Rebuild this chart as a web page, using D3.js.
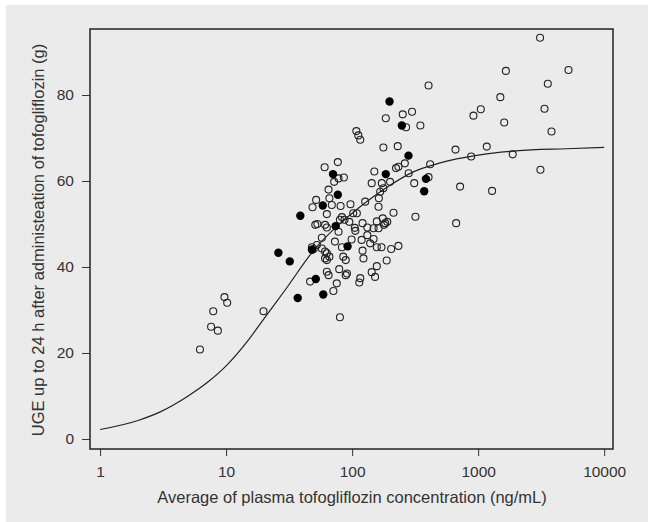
<!DOCTYPE html>
<html>
<head>
<meta charset="utf-8">
<script src="https://cdn.jsdelivr.net/npm/d3@7"></script>
<style>
  body { margin: 0; background: #fff; }
  text { font-family: "Liberation Sans", Arial, sans-serif; fill: #333; }
</style>
</head>
<body>
<div id="chart"></div>
<script>
// filled circles
const filledConc = [26, 32, 37, 38.8, 48, 51.5, 59, 58.5, 70.5, 74, 77, 92, 198, 185, 248, 280, 385, 373];
const filledUGE  = [43.3, 41.3, 32.8, 51.9, 44, 37.2, 33.6, 54.3, 61.6, 49.5, 56.8, 44.8, 78.5, 61.6, 72.9, 65.9, 60.5, 57.6];

// open circles
const openConc = [6.2, 7.6, 7.9, 8.6, 9.7, 10.2, 19.8,
  108, 112, 116, 177, 230, 185, 252, 299, 268, 348, 404,
  60.5, 77, 86, 72, 78, 150, 143, 172, 167, 177, 200,
  223, 233, 262, 281, 416, 311, 404, 318, 213,
  163, 162, 127, 65, 51.8, 48.5, 69, 81, 97, 66,
  109, 83, 80, 87, 63, 102, 53, 51, 63, 61, 95, 105,
  121, 132, 148, 162, 157, 175, 190, 179, 183,
  106, 78, 57.5, 73, 99, 83, 132, 139, 119, 148,
  157, 171, 204, 233, 121, 123, 188, 157, 143, 152, 116, 114,
  79, 91, 89, 85, 89, 63, 66, 63, 61, 63, 65,
  57.5, 61, 52.5, 48, 49.5, 46.4, 75.5, 71, 80,
  3100, 1660, 5210, 3570, 1500, 3360, 1050, 918, 1610, 3820,
  661, 1170, 880, 1880, 3120, 719, 1290, 669];
const openUGE = [20.8, 26.1, 29.7, 25.2, 33.0, 31.7, 29.7,
  71.6, 70.6, 69.6, 67.8, 68.1, 74.6, 75.5, 76.1, 72.5, 72.9, 82.2,
  63.2, 64.4, 60.8, 59.8, 60.6, 62.2, 59.5, 59.5, 57.5, 58.3, 59.8,
  63.0, 63.3, 64.1, 61.8, 63.9, 59.5, 60.9, 51.7, 52.6,
  56.0, 54.0, 55.2, 58.0, 55.6, 53.9, 54.4, 54.2, 54.6, 56,
  52.5, 51.6, 51, 51, 52.3, 52.5, 50, 49.8, 49.2, 49.8, 50.5, 49.1,
  50.2, 49.2, 49.0, 49.0, 50.6, 51.3, 50.5, 49.8, 50.2,
  48.4, 48.2, 46.8, 45.9, 46.4, 44.6, 47.4, 45.5, 46.3, 46.5,
  44.6, 44.6, 44.2, 44.9, 43.8, 42.0, 41.5, 40.2, 38.8, 37.7, 37.4, 36.4,
  39.5, 38.5, 38.1, 42.4, 41.6, 43.2, 42.4, 41.6, 42, 38.9, 38.1,
  44.3, 43.6, 45.1, 44.6, 44.2, 36.6, 36.2, 34.4, 28.3,
  93.3, 85.6, 85.8, 82.6, 79.5, 76.8, 76.7, 75.2, 73.6, 71.5,
  67.3, 68.0, 65.7, 66.2, 62.6, 58.7, 57.7, 50.2];

// fitted curve
const curveConc = [1, 2, 3, 5, 7, 10, 15, 20, 30, 50, 70, 100, 150, 200, 300, 500, 1000, 2000, 5000, 10000];
const curveUGE  = [2.2, 4.3, 6.3, 10, 13, 17, 23, 28, 35, 44, 48.5, 52.5, 56.5, 59, 62, 64.2, 66, 67, 67.5, 67.8];

const xTicks = [1, 10, 100, 1000, 10000];
const yTicks = [0, 20, 40, 60, 80];

const width = 648, height = 522;
const box = {left: 90, right: 613, top: 29, bottom: 449};

const svg = d3.select('#chart').append('svg')
  .attr('width', width)
  .attr('height', height);

svg.append('rect')
  .attr('x', 6).attr('y', 5)
  .attr('width', width - 6).attr('height', height - 5)
  .attr('fill', '#ebebeb');

const x = d3.scaleLog()
  .domain([Math.pow(10, -0.08), Math.pow(10, 4.07)])
  .range([box.left, box.right]);
const y = d3.scaleLinear()
  .domain([-2.33, 95.35])
  .range([box.bottom, box.top]);

// axes
const xAxis = svg.append('g')
  .attr('transform', `translate(0,${box.bottom})`)
  .call(d3.axisBottom(x).tickValues(xTicks).tickFormat(d3.format('d')).tickSize(7).tickPadding(10));
const yAxis = svg.append('g')
  .attr('transform', `translate(${box.left},0)`)
  .call(d3.axisLeft(y).tickValues(yTicks).tickSize(8).tickPadding(8));

[xAxis, yAxis].forEach(g => {
  g.select('.domain').remove();
  g.selectAll('line').attr('stroke', '#333').attr('stroke-width', 1);
  g.selectAll('text').attr('font-size', 15.5).attr('fill', '#333')
    .style('font-family', '"Liberation Sans", Arial, sans-serif');
});

svg.append('rect')
  .attr('x', box.left).attr('y', box.top)
  .attr('width', box.right - box.left).attr('height', box.bottom - box.top)
  .attr('fill', 'none')
  .attr('stroke', '#222')
  .attr('stroke-width', 1.5);

// curve
const curvePts = curveConc.map((c, i) => [c, curveUGE[i]]);
svg.append('path')
  .datum(curvePts)
  .attr('fill', 'none')
  .attr('stroke', '#222')
  .attr('stroke-width', 1.2)
  .attr('d', d3.line().x(d => x(d[0])).y(d => y(d[1])).curve(d3.curveMonotoneX));

// points
const openPts = openConc.map((c, i) => ({c: c, v: openUGE[i]}));
const filledPts = filledConc.map((c, i) => ({c: c, v: filledUGE[i]}));

svg.selectAll('circle.open')
  .data(openPts)
  .enter()
  .append('circle')
  .attr('class', 'open')
  .attr('cx', d => x(d.c))
  .attr('cy', d => y(d.v))
  .attr('r', 3.5)
  .attr('fill', 'none')
  .attr('stroke', '#222')
  .attr('stroke-width', 1.1);

svg.selectAll('circle.filled')
  .data(filledPts)
  .enter()
  .append('circle')
  .attr('class', 'filled')
  .attr('cx', d => x(d.c))
  .attr('cy', d => y(d.v))
  .attr('r', 4.2)
  .attr('fill', '#000');

// titles
svg.append('text')
  .attr('x', 352)
  .attr('y', 503)
  .attr('text-anchor', 'middle')
  .attr('font-size', 16.5)
  .text('Average of plasma tofogliflozin concentration (ng/mL)');

svg.append('text')
  .attr('transform', `translate(44,240) rotate(-90)`)
  .attr('text-anchor', 'middle')
  .attr('font-size', 16.5)
  .text('UGE up to 24 h after administeation of tofogliflozin (g)');
</script>
</body>
</html>
